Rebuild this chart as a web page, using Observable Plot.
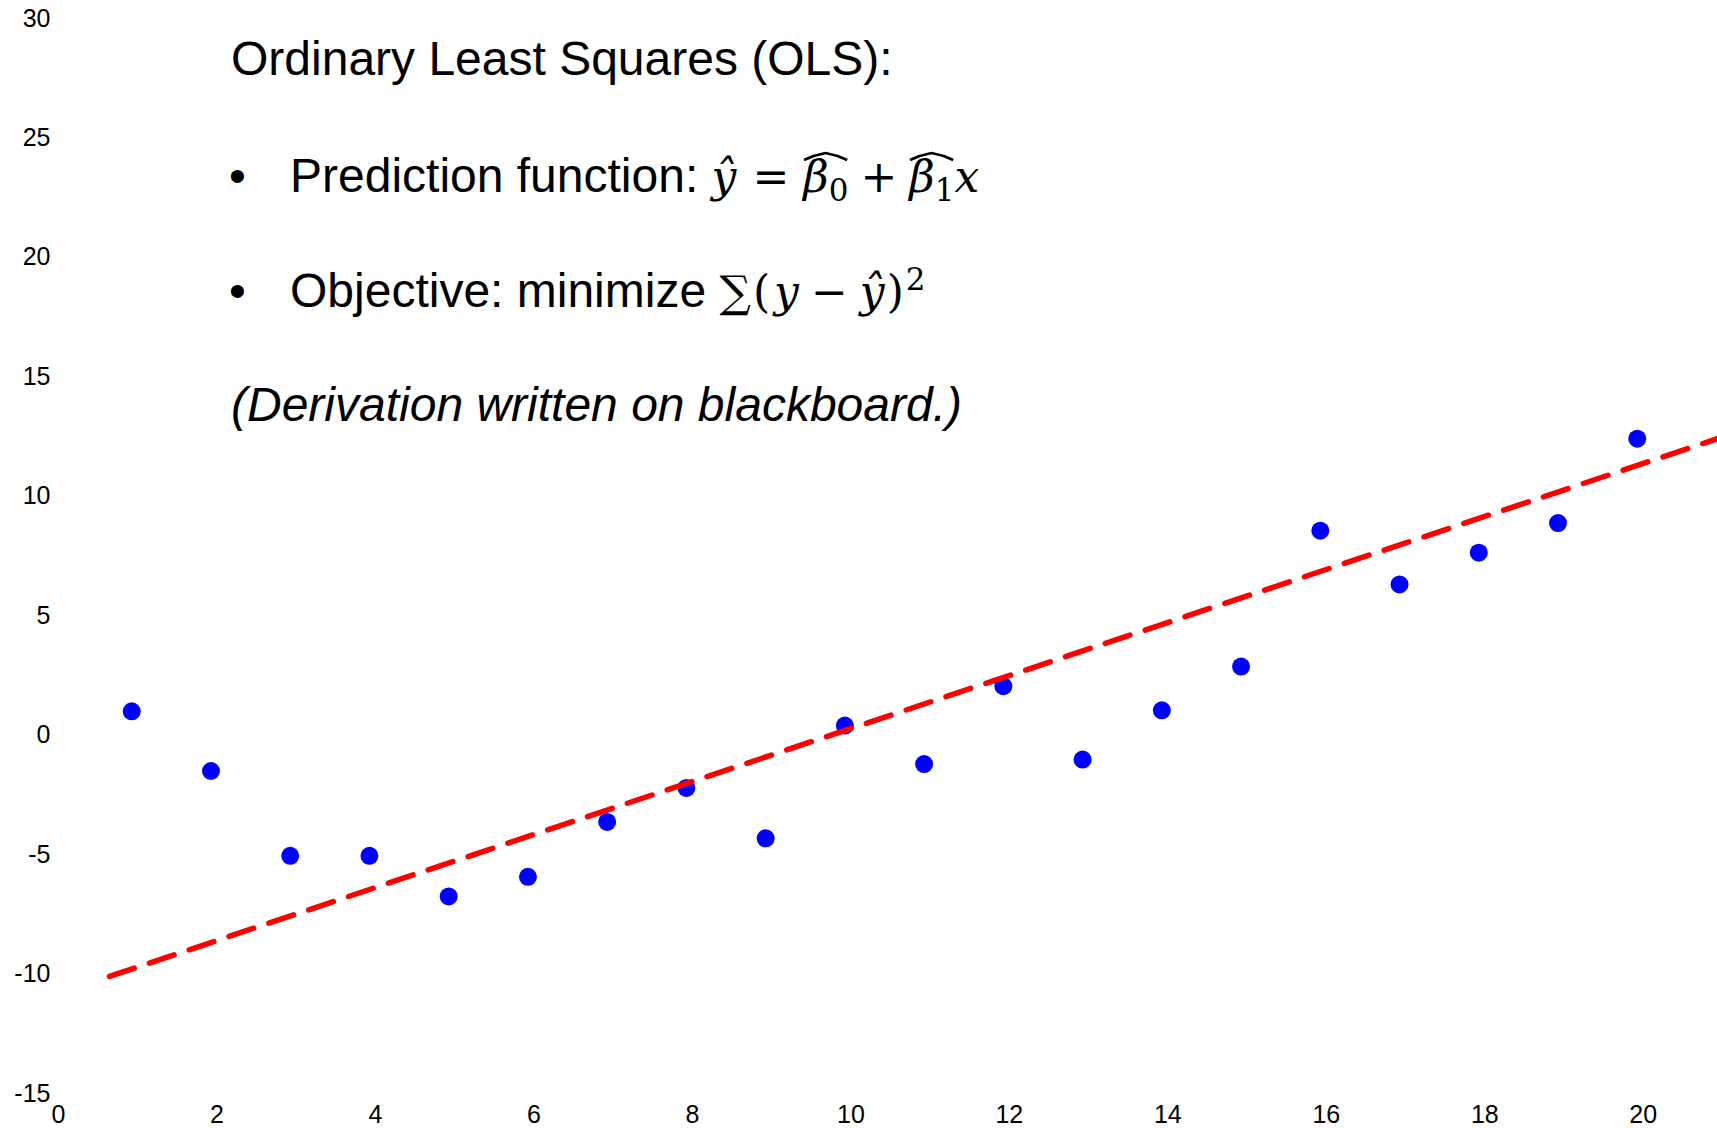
<!DOCTYPE html>
<html>
<head>
<meta charset="utf-8">
<script src="https://cdn.jsdelivr.net/npm/d3@7"></script>
<script src="https://cdn.jsdelivr.net/npm/@observablehq/plot@0.6"></script>
<style>
html,body{margin:0;padding:0;background:#fff;}
#wrap{position:relative;width:1717px;height:1128px;overflow:hidden;font-family:"Liberation Sans",Arial,Helvetica,sans-serif;}
#chart{position:absolute;left:0;top:0;}
.t{position:absolute;font-size:48px;line-height:48px;white-space:nowrap;color:#000;}
.m{font-family:"DejaVu Serif","Liberation Serif",serif;font-style:italic;font-size:44px;}
.u{font-family:"DejaVu Serif","Liberation Serif",serif;font-style:normal;font-size:44px;}
.sub{font-family:"DejaVu Serif","Liberation Serif",serif;font-style:normal;font-size:31px;position:relative;top:9px;}
.sup{font-family:"DejaVu Serif","Liberation Serif",serif;font-style:normal;font-size:31px;position:relative;top:-17px;}
.wh{display:inline-block;}
.bl{display:inline-block;width:0;height:0;vertical-align:baseline;}
.hat{position:absolute;overflow:visible;}
</style>
</head>
<body>
<div id="wrap">
  <div id="chart"></div>
  <div class="t" id="l0" data-base="75" style="left:231px">Ordinary Least Squares (OLS):<span class="bl"></span></div>
  <div class="t" id="b1" data-base="192" style="left:229px">•<span class="bl"></span></div>
  <div class="t" id="l1" data-base="192" style="left:290px">Prediction function: <span class="m">ŷ</span><span class="u" style="margin:0 14px 0 16px">=</span><span class="wh"><span class="m">β</span><span class="sub">0</span></span><span class="u" style="margin:0 12px">+</span><span class="wh"><span class="m">β</span><span class="sub">1</span></span><span class="m">x</span><span class="bl"></span></div>
  <div class="t" id="b2" data-base="307" style="left:229px">•<span class="bl"></span></div>
  <div class="t" id="l2" data-base="307" style="left:290px">Objective: minimize <span class="u" style="margin-right:2px">∑</span><span class="u" style="margin-right:4px">(</span><span class="m">y</span><span class="u" style="margin:0 12px">−</span><span class="m">ŷ</span><span class="u" style="margin-left:2px">)</span><span class="sup" style="margin-left:2px">2</span><span class="bl"></span></div>
  <div class="t" id="l3" data-base="421" style="left:231px;font-style:italic">(Derivation written on blackboard.)<span class="bl"></span></div>
</div>
<script>
// Data
const xValues = [1, 2, 3, 4, 5, 6, 7, 8, 9, 10, 11, 12, 13, 14, 15, 16, 17, 18, 19, 20];
const yValues = [1.0, -1.5, -5.05, -5.05, -6.75, -5.93, -3.63, -2.21, -4.32, 0.40,
                 -1.21, 2.05, -1.02, 1.04, 2.87, 8.56, 6.31, 7.64, 8.88, 12.41];
const fitX = [0.72, 21];
const fitY = [-10.1, 12.4];
const xTicks = [0, 2, 4, 6, 8, 10, 12, 14, 16, 18, 20];
const yTicks = [-15, -10, -5, 0, 5, 10, 15, 20, 25, 30];

const points = xValues.map((x, i) => ({x, y: yValues[i]}));
const fit = fitX.map((x, i) => ({x, y: fitY[i]}));

const chart = Plot.plot({
  width: 1717,
  height: 1128,
  marginLeft: 52,
  marginRight: 1,
  marginTop: 18,
  marginBottom: 35,
  style: {fontFamily: '"Liberation Sans", Arial, Helvetica, sans-serif', fontSize: "26px", background: "white", color: "black"},
  x: {domain: [0, 21]},
  y: {domain: [-15, 30]},
  marks: [
    Plot.axisX({ticks: xTicks, tickSize: 0, tickPadding: 12, dx: 6, label: null, tickFormat: d => String(d), fontSize: 25}),
    Plot.axisY({ticks: yTicks, tickSize: 0, tickPadding: 2, label: null, tickFormat: d => String(d), fontSize: 25}),
    Plot.dot(points, {x: "x", y: "y", r: 9, fill: "#0000ff", stroke: "none"}),
    Plot.line(fit, {x: "x", y: "y", stroke: "#ff0000", strokeWidth: 5.5, strokeDasharray: "26,16"})
  ]
});
document.getElementById("chart").appendChild(chart);

// place text lines by baseline
const wrap = document.getElementById("wrap");
const wrapTop = () => wrap.getBoundingClientRect().top;
document.querySelectorAll(".t").forEach(el => {
  const target = +el.dataset.base;
  el.style.top = "0px";
  const bl = el.querySelector(".bl");
  const cur = bl.getBoundingClientRect().top - wrapTop();
  el.style.top = (target - cur) + "px";
});
// wide hats over beta-hat groups
document.querySelectorAll(".wh").forEach(span => {
  const line = span.closest(".t");
  const base = +line.dataset.base;
  const r = span.getBoundingClientRect();
  const wr = wrap.getBoundingClientRect();
  const w = r.width;
  const svgNS = "http://www.w3.org/2000/svg";
  const svg = document.createElementNS(svgNS, "svg");
  svg.setAttribute("class", "hat");
  svg.setAttribute("width", w);
  svg.setAttribute("height", 10);
  svg.style.left = (r.left - wr.left) + "px";
  svg.style.top = (base - 40) + "px";
  const p = document.createElementNS(svgNS, "path");
  p.setAttribute("d", `M1,8 Q${w*0.25},3 ${w*0.5},1 Q${w*0.75},3 ${w-1},8`);
  p.setAttribute("fill", "none");
  p.setAttribute("stroke", "#000");
  p.setAttribute("stroke-width", "2.6");
  svg.appendChild(p);
  wrap.appendChild(svg);
});
</script>
</body>
</html>
